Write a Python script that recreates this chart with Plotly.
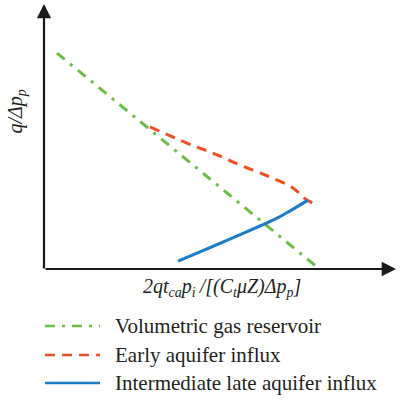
import plotly.graph_objects as go

# data (arbitrary units)
green_x = [0.37, 7.81]
green_y = [8.18, 0.04]
red_x = [3.02, 4.07, 4.81, 5.58, 6.44, 7.09, 7.49, 7.66]
red_y = [5.38, 4.77, 4.39, 3.94, 3.48, 3.07, 2.61, 2.50]
blue_x = [3.82, 6.64, 7.01, 7.52]
blue_y = [0.30, 1.93, 2.20, 2.61]
legend_labels = ["Volumetric gas reservoir", "Early aquifer influx", "Intermediate late aquifer influx"]

GREEN = "#6cbd45"
RED = "#f04e23"
BLUE = "#1c7cc8"
FONT = "Liberation Serif"

fig = go.Figure()
fig.add_trace(go.Scatter(x=green_x, y=green_y, mode="lines",
                         line=dict(color=GREEN, width=3, dash="10px,7px,3px,7px")))
fig.add_trace(go.Scatter(x=red_x, y=red_y, mode="lines",
                         line=dict(color=RED, width=3, dash="10px,7px", shape="spline")))
fig.add_trace(go.Scatter(x=blue_x, y=blue_y, mode="lines",
                         line=dict(color=BLUE, width=3, shape="spline")))

L, R, T, B = 44, 5, 5, 131
W = 400 - L - R
H = 400 - T - B

def px(p):
    return (p - L) / W

def py(p):
    return (400 - B - p) / H

# axes with arrows
fig.add_annotation(x=px(396), y=py(269), ax=-352, ay=0, xref="paper", yref="paper",
                   axref="pixel", ayref="pixel", showarrow=True, arrowhead=2, arrowsize=1.3,
                   arrowwidth=2.2, arrowcolor="#1a1a1a", text="")
fig.add_annotation(x=px(44), y=py(4), ax=0, ay=266, xref="paper", yref="paper",
                   axref="pixel", ayref="pixel", showarrow=True, arrowhead=2, arrowsize=1.3,
                   arrowwidth=2.2, arrowcolor="#1a1a1a", text="")

# axis titles
fig.add_annotation(x=px(222), y=py(289), xref="paper", yref="paper", showarrow=False,
                   yshift=-13,
                   text="<i>2qt<sub>ca</sub>p<sub>i</sub>\u2009/[(C<sub>t</sub>μZ)Δp<sub>p</sub>]</i>",
                   font=dict(family=FONT, size=20, color="#231f20"))
fig.add_annotation(x=px(18), y=py(112), xref="paper", yref="paper", showarrow=False,
                   xshift=-17,
                   text="<i>q/Δp<sub>p</sub></i>", textangle=-90,
                   font=dict(family=FONT, size=20, color="#231f20"))

# legend drawn manually
rows = [326, 355, 383]
styles = [(GREEN, "10px,7px,3px,7px"), (RED, "10px,7px"), (BLUE, "solid")]
for label, yy, (c, d) in zip(legend_labels, rows, styles):
    fig.add_shape(type="line", xref="paper", yref="paper",
                  x0=px(45), x1=px(100), y0=py(yy), y1=py(yy),
                  line=dict(color=c, width=2.5, dash=d))
    fig.add_annotation(x=px(113), y=py(yy), xref="paper", yref="paper", showarrow=False,
                       xanchor="left", text=label, yshift=-14,
                       font=dict(family=FONT, size=21, color="#231f20"))

fig.update_layout(
    width=400, height=400,
    margin=dict(l=L, r=R, t=T, b=B),
    paper_bgcolor="white", plot_bgcolor="white",
    showlegend=False,
    xaxis=dict(range=[0, 10], visible=False, fixedrange=True),
    yaxis=dict(range=[0, 10], visible=False, fixedrange=True),
)
fig.write_html("out.html")
